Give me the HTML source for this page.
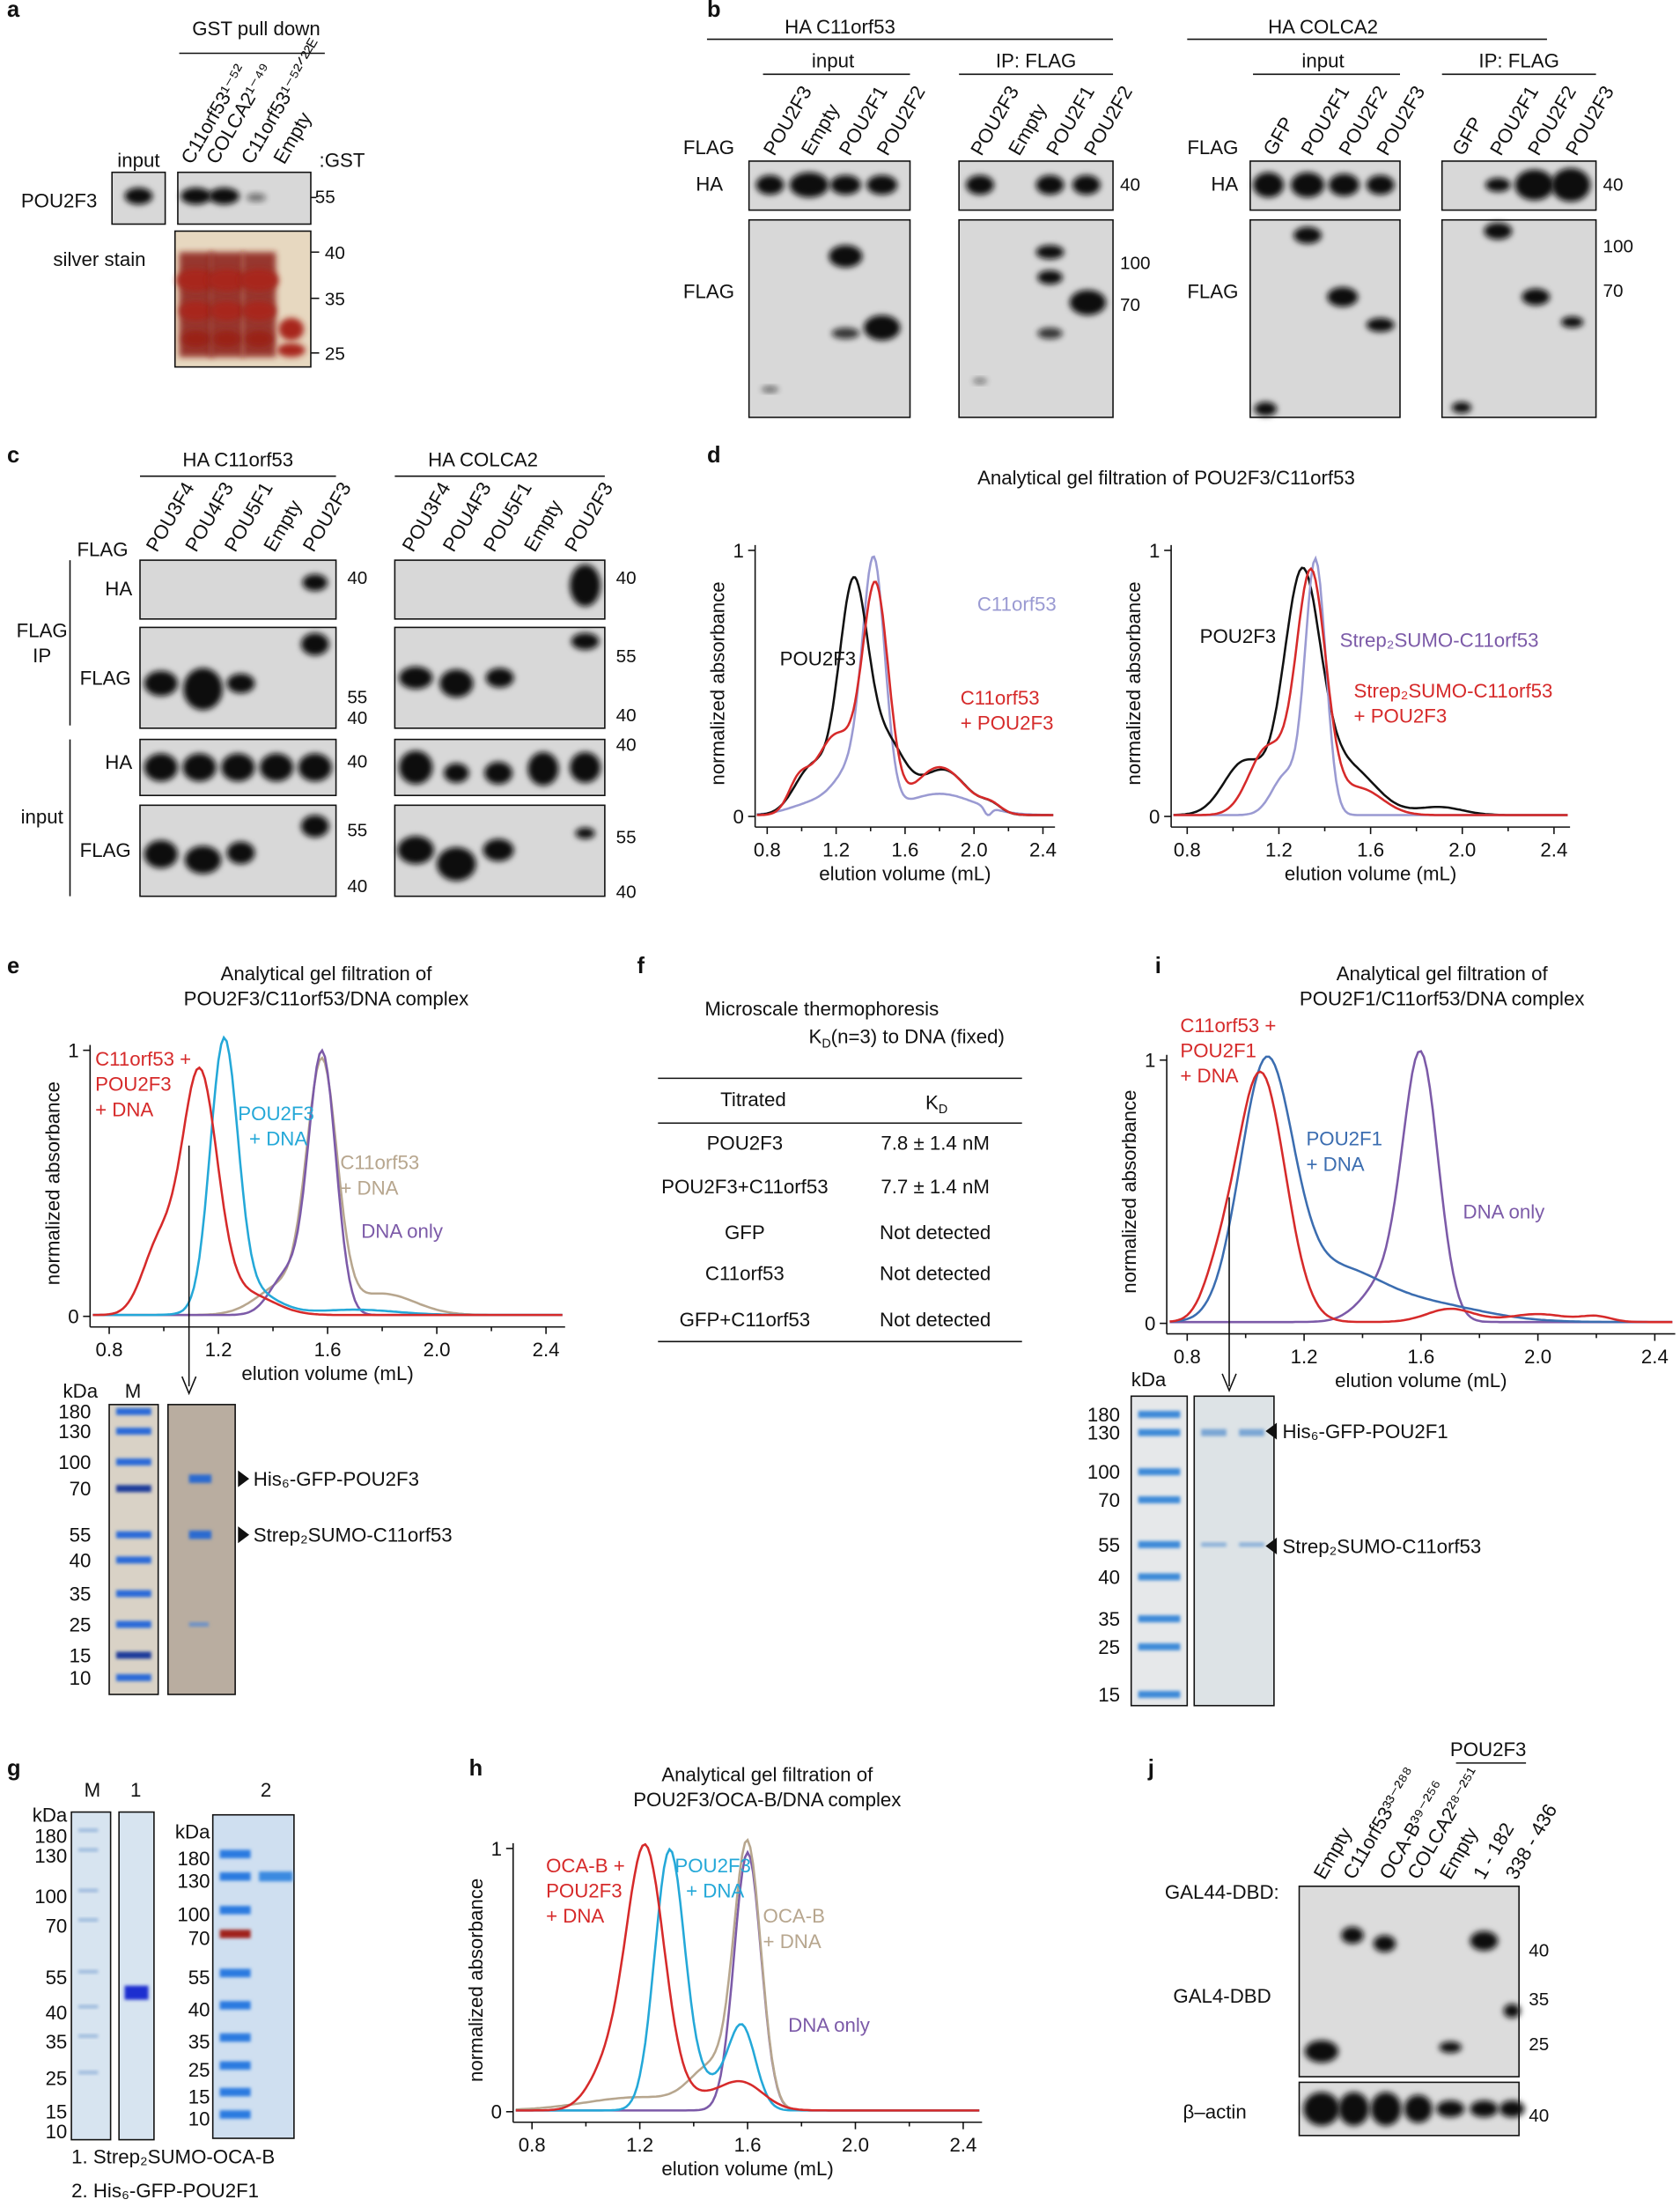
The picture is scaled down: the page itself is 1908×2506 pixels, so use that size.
<!DOCTYPE html>
<html><head><meta charset="utf-8"><style>html,body{margin:0;padding:0;background:#fff}svg{display:block}</style></head>
<body>
<svg id="s" xmlns="http://www.w3.org/2000/svg" width="1908" height="2506" viewBox="0 0 1200 1576" font-family="Liberation Sans, DejaVu Sans, sans-serif">
<defs>
<filter id="b" x="-50%" y="-50%" width="200%" height="200%"><feGaussianBlur stdDeviation="2.2"/></filter>
<filter id="b2" x="-50%" y="-50%" width="200%" height="200%"><feGaussianBlur stdDeviation="1.2"/></filter>
</defs>
<rect width="1200" height="1576" fill="#fff"/>
</svg>
<script>
const S=document.getElementById('s'),NS='http://www.w3.org/2000/svg';
function el(t,a,tx){const e=document.createElementNS(NS,t);for(const k in a)e.setAttribute(k,a[k]);if(tx!==undefined)e.textContent=tx;S.appendChild(e);return e;}
function T(x,y,s,o={}){return el('text',{x:x,y:y,'font-size':o.fs||14,'text-anchor':o.a||'start',fill:o.c||'#111','font-weight':o.w||'normal'},s);}
function TB(x,y,s){return T(x,y,s,{fs:16,w:'bold'});}
function R(x,y,s,fs){const e=el('text',{x:x,y:y,'font-size':fs||14,fill:'#111',transform:`rotate(-60 ${x} ${y})`},s);return e;}
function L(x1,y1,x2,y2,c,w){return el('line',{x1,y1,x2,y2,stroke:c||'#111','stroke-width':w||1});}
function box(x,y,w,h,f){return el('rect',{x,y,width:w,height:h,fill:f||'#d8d8d8',stroke:'#111','stroke-width':1});}
function blob(cx,cy,rx,ry,op,f){return el('ellipse',{cx,cy,rx,ry,fill:f||'#0a0a0a',opacity:op||1,filter:'url(#b)'});}
function band(x,y,w,c,h){return el('rect',{x:x,y:y-(h||2),width:w,height:(h||2)*2,fill:c,filter:'url(#b2)'});}

// ---------- panel a
TB(5,12,'a');
T(183,25,'GST pull down',{a:'middle'});L(128,38,232,38);
T(99,119,'input',{a:'middle'});
R(137,118,'C11orf53¹⁻⁵²');R(155,118,'COLCA2¹⁻⁴⁹');R(180,118,'C11orf53¹⁻⁵²ᐟ²²ᴱ');R(203,118,'Empty');
T(228,119,':GST');
T(15,148,'POU2F3');
box(80,123,38,37);blob(99,140,10,6);
box(127,123,95,37);blob(140,140,11,6);blob(160,140,11,6);blob(183,141,7,3,0.5);
T(225,145,'55',{fs:13});L(222,141,226,141);
T(38,190,'silver stain');
box(125,165,97,97,'#e7d8c0');
for(const [x,c] of [[140,'#8a1a12'],[162,'#8a1a12'],[185,'#8a1a12']]){
 el('rect',{x:x-12,y:180,width:24,height:75,fill:c,opacity:.85,filter:'url(#b)'});
 blob(x,200,14,8,1,'#a8281a');blob(x,222,12,7,1,'#a8281a');blob(x,242,10,6,1,'#9a2016');}
blob(208,235,9,8,1,'#a8281a');blob(208,250,10,5,1,'#a8281a');
for(const [v,y] of [['40',180],['35',213],['25',252]]){T(232,y+5,v,{fs:13});L(222,y,228,y);}

// ---------- panel b
TB(505,12,'b');
T(600,24,'HA C11orf53',{a:'middle'});L(505,28,795,28);
T(595,48,'input',{a:'middle'});L(545,53,650,53);
T(740,48,'IP: FLAG',{a:'middle'});L(685,53,795,53);
T(945,24,'HA COLCA2',{a:'middle'});L(848,28,1105,28);
T(945,48,'input',{a:'middle'});L(895,53,1000,53);
T(1085,48,'IP: FLAG',{a:'middle'});L(1030,53,1140,53);
T(488,110,'FLAG');T(497,136,'HA');T(488,213,'FLAG');
['POU2F3','Empty','POU2F1','POU2F2'].forEach((s,i)=>{R(553+i*27,112,s);R(701+i*27,112,s);});
T(848,110,'FLAG');T(865,136,'HA');T(848,213,'FLAG');
['GFP','POU2F1','POU2F2','POU2F3'].forEach((s,i)=>{R(910+i*27,112,s);R(1045+i*27,112,s);});
box(535,115,115,35);blob(550,132,10,7);blob(578,132,14,9);blob(604,132,11,7);blob(630,132,11,7);
box(535,157,115,141);blob(604,183,12,8);blob(604,238,10,4,0.8);blob(630,234,13,9);blob(550,278,6,2,0.6);
box(685,115,110,35);blob(700,132,10,7);blob(750,132,10,7);blob(776,132,10,7);
box(685,157,110,141);blob(750,180,10,5);blob(750,198,9,5);blob(750,238,9,4,0.8);blob(777,216,13,9);blob(700,272,5,2,0.5);
T(800,136,'40',{fs:13});T(800,192,'100',{fs:13});T(800,222,'70',{fs:13});
box(893,115,107,35);blob(906,132,11,9);blob(934,132,12,9);blob(960,132,11,8);blob(986,132,10,7);
box(893,157,107,141);blob(934,168,10,6);blob(959,212,11,7);blob(986,232,10,5);blob(904,292,8,5);
box(1030,115,110,35);blob(1070,132,9,5);blob(1096,132,14,11);blob(1122,132,14,12);
box(1030,157,110,141);blob(1070,165,10,6);blob(1097,212,10,6);blob(1123,230,8,4);blob(1044,291,7,4);
T(1145,136,'40',{fs:13});T(1145,180,'100',{fs:13});T(1145,212,'70',{fs:13});

// ---------- panel c
TB(5,330,'c');
T(170,333,'HA C11orf53',{a:'middle'});T(345,333,'HA COLCA2',{a:'middle'});
L(100,340,240,340);L(282,340,432,340);
T(55,397,'FLAG');
['POU3F4','POU4F3','POU5F1','Empty','POU2F3'].forEach((s,i)=>{R(112+i*28,395,s);R(295+i*29,395,s);});
T(75,425,'HA');T(57,489,'FLAG');T(75,549,'HA');T(57,612,'FLAG');
T(30,455,'FLAG',{a:'middle'});T(30,473,'IP',{a:'middle'});T(30,588,'input',{a:'middle'});
L(50,400,50,518);L(50,528,50,640);
box(100,400,140,42);blob(225,416,9,6);
box(100,448,140,72);blob(115,488,12,9);blob(145,492,14,15);blob(172,488,10,7);blob(225,460,10,8);
box(100,528,140,40);for(let i=0;i<5;i++)blob(115+i*27.5,548,12,10);
box(100,575,140,65);blob(115,610,12,10);blob(145,614,13,10);blob(172,609,10,8);blob(225,590,10,8);
T(248,417,'40',{fs:13});T(248,502,'55',{fs:13});T(248,517,'40',{fs:13});T(248,548,'40',{fs:13});T(248,597,'55',{fs:13});T(248,637,'40',{fs:13});
box(282,400,150,42);blob(418,418,11,15);
box(282,448,150,72);blob(297,484,12,8);blob(326,488,12,10);blob(357,484,10,7);blob(418,458,10,6);
box(282,528,150,40);blob(297,548,12,12);blob(326,552,9,7);blob(356,552,10,8);blob(388,549,11,12);blob(418,548,11,11);
box(282,575,150,65);blob(297,607,13,10);blob(326,617,14,12);blob(356,607,11,8);blob(418,595,7,4);
T(440,417,'40',{fs:13});T(440,473,'55',{fs:13});T(440,515,'40',{fs:13});T(440,536,'40',{fs:13});T(440,602,'55',{fs:13});T(440,641,'40',{fs:13});

// ---------- plot helper
function gsum(p,v){let s=0;for(const [c,sg,a] of p)s+=a*Math.exp(-0.5*((v-c)/sg)**2);return s;}
function plot(o){
 const px=v=>o.ax+(v-0.8)*o.k, py=a=>o.by-a*o.h;
 const yb=py(-0.04);
 L(px(0.73),py(1.02),px(0.73),yb);L(px(0.73),yb,px(2.47),yb);
 L(px(0.73)-5,py(0),px(0.73),py(0));L(px(0.73)-5,py(1),px(0.73),py(1));
 T(px(0.73)-8,py(0)+5,'0',{a:'end'});T(px(0.73)-8,py(1)+5,'1',{a:'end'});
 for(const v of [0.8,1.2,1.6,2.0,2.4]){L(px(v),yb,px(v),yb+5);T(px(v),yb+21,v.toFixed(1),{a:'middle'});}
 for(const v of [1.0,1.4,1.8,2.2])L(px(v),yb,px(v),yb+3);
 T(px(1.6),yb+38,'elution volume (mL)',{a:'middle'});
 el('text',{x:0,y:0,'font-size':14,'text-anchor':'middle',fill:'#111',transform:`translate(${px(0.73)-22},${py(0.5)}) rotate(-90)`},'normalized absorbance');
 for(const c of o.curves){let d='';for(let v=0.74;v<=2.46;v+=0.01){const a=gsum(c.p,v)+(c.base||0.005);d+=(d?'L':'M')+px(v).toFixed(1)+','+py(a).toFixed(1);}
  el('path',{d:d,fill:'none',stroke:c.c,'stroke-width':1.6});}
}
const RED='#d62a2a',LAV='#9a9ad2',CY='#24a8d8',TAN='#b7a68e',PUR='#7c5aa8',BL='#3b6db0';

// ---------- panel d
TB(505,330,'d');
T(833,346,'Analytical gel filtration of POU2F3/C11orf53',{a:'middle'});
plot({ax:548,k:123.1,by:583,h:190,curves:[
 {c:LAV,p:[[1.42,.065,.88],[1.3,.1,.15],[1.8,.2,.08],[1.1,.15,.05],[2.08,.02,-.03]]},
 {c:'#111',p:[[1.3,.085,.85],[1.06,.1,.18],[1.5,.1,.25],[1.82,.14,.17],[2.1,.06,.03]]},
 {c:RED,p:[[1.43,.075,.82],[1.2,.12,.3],[0.98,.06,.1],[1.8,.15,.18],[2.1,.06,.03]]}]});
T(698,436,'C11orf53',{c:LAV});T(557,475,'POU2F3');T(686,503,'C11orf53',{c:RED});T(686,521,'+ POU2F3',{c:RED});
plot({ax:848,k:163.75,by:583,h:190,curves:[
 {c:'#111',p:[[1.3,.08,.88],[1.05,.09,.2],[1.5,.12,.18],[1.9,.1,.03]]},
 {c:LAV,p:[[1.36,.045,.95],[1.23,.06,.15]]},
 {c:RED,p:[[1.34,.065,.9],[1.15,.08,.25],[1.55,.1,.1]]}]});
T(857,459,'POU2F3');T(957,462,'Strep₂SUMO-C11orf53',{c:PUR});T(967,498,'Strep₂SUMO-C11orf53',{c:RED});T(967,516,'+ POU2F3',{c:RED});

// ---------- panel e
TB(5,695,'e');
T(233,700,'Analytical gel filtration of',{a:'middle'});T(233,718,'POU2F3/C11orf53/DNA complex',{a:'middle'});
plot({ax:78,k:195,by:940,h:190,curves:[
 {c:TAN,p:[[1.58,.055,.9],[1.45,.1,.12],[1.8,.12,.08]]},
 {c:PUR,p:[[1.58,.05,.98],[1.45,.06,.15]]},
 {c:CY,p:[[1.22,.05,.97],[1.3,.1,.1],[1.7,.15,.02]]},
 {c:RED,p:[[1.13,.065,.9],[0.98,.06,.25],[1.3,.1,.08]]}]});
T(68,761,'C11orf53 +',{c:RED});T(68,779,'POU2F3',{c:RED});T(68,797,'+ DNA',{c:RED});
T(170,800,'POU2F3',{c:CY});T(178,818,'+ DNA',{c:CY});
T(243,835,'C11orf53',{c:TAN});T(243,853,'+ DNA',{c:TAN});T(258,884,'DNA only',{c:PUR});
L(135,818,135,990);el('path',{d:'M130,983 L135,995 L140,983',fill:'none',stroke:'#111'});
T(45,998,'kDa');T(95,998,'M',{a:'middle'});
const eK=[['180',1008],['130',1022],['100',1044],['70',1063],['55',1096],['40',1114],['35',1138],['25',1160],['15',1182],['10',1198]];
box(78,1003,35,207,'#d9d2c6');
eK.forEach(([v,y])=>{T(65,y+5,v,{a:'end'});band(83,y,25,v=='70'||v=='15'?'#1a3a9a':'#2a6ad8',2.5);});
box(120,1003,48,207,'#b9ada0');band(135,1056,16,'#2c6ad0',3);band(135,1096,16,'#2c6ad0',3);band(135,1160,14,'#6a90c8',1.5);
el('path',{d:'M170,1050 L178,1056 L170,1062Z',fill:'#111'});T(181,1061,'His₆-GFP-POU2F3');
el('path',{d:'M170,1090 L178,1096 L170,1102Z',fill:'#111'});T(181,1101,'Strep₂SUMO-C11orf53');

// ---------- panel f
TB(455,695,'f');
T(587,725,'Microscale thermophoresis',{a:'middle'});T(587,745,'K',{a:'end'});
el('text',{x:587,y:745,'font-size':14,fill:'#111'},'').innerHTML='<tspan font-size="9" dy="3">D</tspan><tspan dy="-3">(n=3) to DNA (fixed)</tspan>';
L(470,770,730,770);L(470,802,730,802);L(470,958,730,958);
T(538,790,'Titrated',{a:'middle'});
const kd=el('text',{x:661,y:792,'font-size':14,fill:'#111'},'');kd.innerHTML='K<tspan font-size="9" dy="3">D</tspan>';
[['POU2F3','7.8 ± 1.4 nM',821],['POU2F3+C11orf53','7.7 ± 1.4 nM',852],['GFP','Not detected',885],['C11orf53','Not detected',914],['GFP+C11orf53','Not detected',947]].forEach(([a,b,y])=>{T(532,y,a,{a:'middle'});T(668,y,b,{a:'middle'});});

// ---------- panel i
TB(825,695,'i');
T(1030,700,'Analytical gel filtration of',{a:'middle'});T(1030,718,'POU2F1/C11orf53/DNA complex',{a:'middle'});
plot({ax:848,k:208.75,by:945,h:188,curves:[
 {c:PUR,p:[[1.6,.06,.98],[1.48,.08,.15]]},
 {c:BL,p:[[1.07,.09,.95],[1.3,.15,.18],[1.6,.2,.07]]},
 {c:RED,p:[[1.05,.085,.95],[0.9,.05,.1],[1.7,.08,.05],[2.0,.1,.03],[2.2,.05,.02]]}]});
T(843,737,'C11orf53 +',{c:RED});T(843,755,'POU2F1',{c:RED});T(843,773,'+ DNA',{c:RED});
T(933,818,'POU2F1',{c:BL});T(933,836,'+ DNA',{c:BL});T(1045,870,'DNA only',{c:PUR});
L(878,855,878,990);el('path',{d:'M873,981 L878,993 L883,981',fill:'none',stroke:'#111'});
T(808,990,'kDa');T(828,1013,'M',{a:'middle'});
box(808,997,40,221,'#e6e8ea');box(853,997,57,221,'#dde3e6');
const iK=[['180',1010],['130',1023],['100',1051],['70',1071],['55',1103],['40',1126],['35',1156],['25',1176],['15',1210]];
iK.forEach(([v,y])=>{T(800,y+5,v,{a:'end'});band(813,y,30,'#3d8ad8',2.5);});
band(858,1023,18,'#7aa6d4',2.5);band(885,1023,18,'#7aa6d4',2.5);band(858,1103,18,'#8ab0d8',1.5);band(885,1103,18,'#8ab0d8',1.5);
el('path',{d:'M912,1016 L904,1022 L912,1028Z',fill:'#111'});T(916,1027,'His₆-GFP-POU2F1');
el('path',{d:'M912,1098 L904,1104 L912,1110Z',fill:'#111'});T(916,1109,'Strep₂SUMO-C11orf53');

// ---------- panel g
TB(5,1268,'g');
T(66,1283,'M',{a:'middle'});T(97,1283,'1',{a:'middle'});T(190,1283,'2',{a:'middle'});
box(51,1294,28,234,'#d7e4f0');box(85,1294,25,234,'#d7e4f0');box(152,1296,58,231,'#cfdff0');
T(48,1301,'kDa',{a:'end'});
const gM=[['180',1311],['130',1325],['100',1354],['70',1375],['55',1412],['40',1437],['35',1458],['25',1484],['15',1508],['10',1522]];
gM.forEach(([v,y])=>{T(48,y+5,v,{a:'end'});if(v!='15'&&v!='10')band(56,y-4,14,'#9ab8dc',1.2);});
band(89,1423,17,'#1a2fd0',5);
T(150,1313,'kDa',{a:'end'});
const g2=[['180',1327],['130',1343],['100',1367],['70',1384],['55',1412],['40',1435],['35',1458],['25',1478],['15',1497],['10',1513]];
g2.forEach(([v,y])=>{T(150,y+5,v,{a:'end'});band(157,y-3,22,v=='70'?'#a0201a':'#2a7ae0',3);});
band(185,1340,24,'#3a8ae0',3.5);
T(51,1545,'1. Strep₂SUMO-OCA-B');T(51,1569,'2. His₆-GFP-POU2F1');

// ---------- panel h
TB(335,1268,'h');
T(548,1272,'Analytical gel filtration of',{a:'middle'});T(548,1290,'POU2F3/OCA-B/DNA complex',{a:'middle'});
plot({ax:380,k:192.5,by:1508,h:188,curves:[
 {c:PUR,p:[[1.6,.05,.98]]},
 {c:TAN,p:[[1.6,.05,.98],[1.47,.08,.15],[1.2,.2,.05]]},
 {c:CY,p:[[1.31,.055,.97],[1.58,.05,.3],[1.45,.08,.1]]},
 {c:RED,p:[[1.22,.07,.98],[1.08,.07,.15],[1.58,.08,.1],[1.4,.1,.05]]}]});
T(390,1337,'OCA-B +',{c:RED});T(390,1355,'POU2F3',{c:RED});T(390,1373,'+ DNA',{c:RED});
T(482,1337,'POU2F3',{c:CY});T(490,1355,'+ DNA',{c:CY});
T(545,1373,'OCA-B',{c:TAN});T(545,1391,'+ DNA',{c:TAN});T(563,1451,'DNA only',{c:PUR});

// ---------- panel j
TB(820,1268,'j');
T(1063,1254,'POU2F3',{a:'middle'});L(1040,1259,1090,1259);
R(946,1343,'Empty');R(967,1343,'C11orf53³³⁻²⁸⁸');R(993,1343,'OCA-B³⁹⁻²⁵⁶');R(1013,1343,'COLCA2²⁸⁻²⁵¹');R(1036,1343,'Empty');R(1060,1343,'1 - 182');R(1083,1343,'338 - 436');
T(832,1356,'GAL44-DBD:');T(838,1430,'GAL4-DBD');T(845,1513,'β–actin');
box(928,1347,157,136,'#dcdcdc');
blob(944,1465,12,8);blob(966,1382,8,6);blob(989,1388,8,6);blob(1036,1462,8,4);blob(1060,1386,10,7);blob(1080,1436,6,5);
box(928,1487,157,38,'#dcdcdc');
blob(944,1506,13,12);blob(967,1506,11,12);blob(990,1506,11,12);blob(1013,1506,10,10);blob(1036,1506,10,6);blob(1060,1506,10,6);blob(1080,1506,9,6);
T(1092,1397,'40',{fs:13});T(1092,1432,'35',{fs:13});T(1092,1464,'25',{fs:13});T(1092,1515,'40',{fs:13});
</script>
</body></html>
